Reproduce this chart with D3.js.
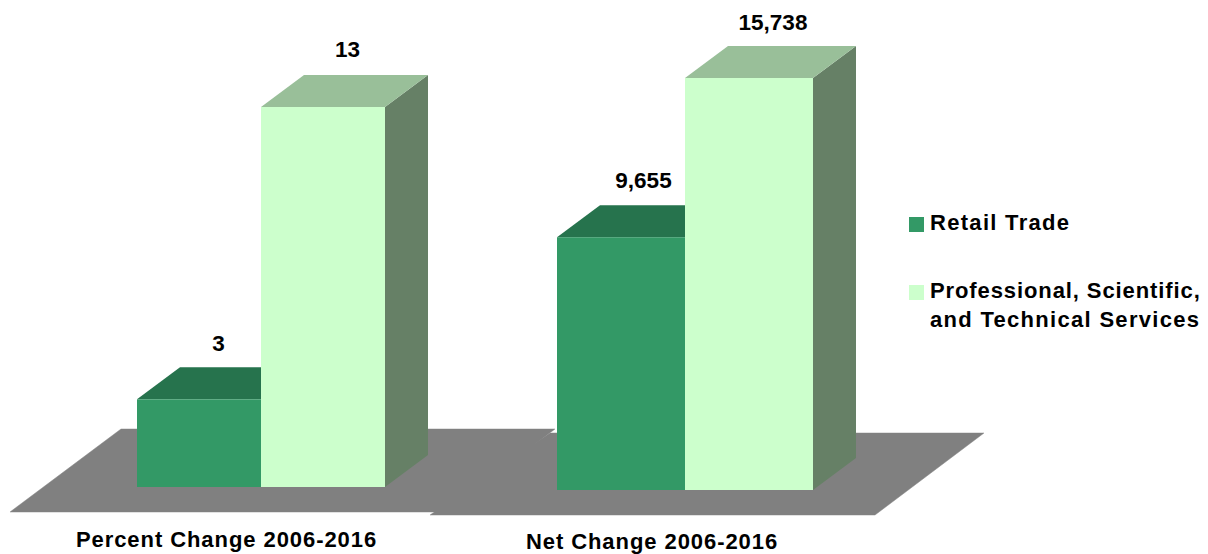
<!DOCTYPE html>
<html>
<head>
<meta charset="utf-8">
<script src="https://cdn.jsdelivr.net/npm/d3@7"></script>
<style>
  html, body { margin: 0; padding: 0; background: #fff; }
  svg { display: block; }
  text { font-family: "Liberation Sans", Arial, sans-serif; font-weight: bold; fill: #000; }
</style>
</head>
<body>
<div id="chart"></div>
<script>
const categories = ["Percent Change 2006-2016", "Net Change 2006-2016"]
const seriesNames = ["Retail Trade", "Professional, Scientific,|and Technical Services"]
const retailTrade = [3, 9655]
const professional = [13, 15738]
const colors = ["#339966", "#ccffcc"]
const topColors = ["#26734d", "#99bf99"]
const sideColors = ["#1a4d33", "#668066"]

const width = 1208
const height = 554
const depthX = 43
const depthY = -32

const svg = d3
  .select("#chart")
  .append("svg")
  .attr("width", width)
  .attr("height", height)
  .attr("viewBox", [0, 0, width, height])

// each panel has its own value axis and its own floor
const panels = [
  {
    x: d3.scaleBand().domain([0, 1]).range([137, 385]),
    y: d3.scaleLinear().domain([0, 13]).range([487, 107]),
    floor: [[10, 512], [121, 429], [555, 429], [445, 512]],
    fmt: d3.format("d"),
    nudge: [[-3, 2], [2, 0]],
    labelX: 226.5,
    labelY: 547,
    spacing: 0.93
  },
  {
    x: d3.scaleBand().domain([0, 1]).range([557, 813]),
    y: d3.scaleLinear().domain([0, 15738]).range([490, 78]),
    floor: [[430, 515], [550, 433], [984, 433], [875, 515]],
    fmt: d3.format(","),
    nudge: [[0, 1], [1.5, 2]],
    labelX: 652,
    labelY: 549,
    spacing: 0.93
  }
]

const line = d3.line()

// outlines first, then the fills, so no edge shows where the floors overlap
panels.forEach(p => {
  svg
    .append("path")
    .attr("d", line(p.floor) + "Z")
    .attr("fill", "none")
    .attr("stroke", "#c4c4c4")
    .attr("stroke-width", 1)
})
panels.forEach(p => {
  svg.append("path").attr("d", line(p.floor) + "Z").attr("fill", "#808080")
})

panels.forEach((p, i) => {
  const values = [retailTrade[i], professional[i]]
  values.forEach((v, s) => {
    const x0 = p.x(s)
    const x1 = x0 + p.x.bandwidth()
    const yTop = p.y(v)
    const yBase = p.y(0)
    const g = svg.append("g")

    // right side
    g.append("path")
      .attr("d", line([[x1, yTop], [x1 + depthX, yTop + depthY], [x1 + depthX, yBase + depthY], [x1, yBase]]) + "Z")
      .attr("fill", sideColors[s])
    // top
    g.append("path")
      .attr("d", line([[x0, yTop], [x0 + depthX, yTop + depthY], [x1 + depthX, yTop + depthY], [x1, yTop]]) + "Z")
      .attr("fill", topColors[s])
    // front
    g.append("rect")
      .attr("x", x0)
      .attr("y", yTop)
      .attr("width", x1 - x0)
      .attr("height", yBase - yTop)
      .attr("fill", colors[s])

    svg.append("text")
      .attr("x", (x0 + x1) / 2 + depthX / 2 + 1 + p.nudge[s][0])
      .attr("y", yTop + depthY - 18 + p.nudge[s][1])
      .attr("text-anchor", "middle")
      .attr("font-size", 22.5)
      .text(p.fmt(v))
  })

  svg.append("text")
    .attr("x", p.labelX)
    .attr("y", p.labelY)
    .attr("text-anchor", "middle")
    .attr("font-size", 22)
    .attr("letter-spacing", p.spacing)
    .text(categories[i])
})

// legend
const legendY = [217, 285]
const legendSpacing = [[1.3], [0.9, 1.3]]
seriesNames.forEach((name, s) => {
  svg.append("rect")
    .attr("x", 909)
    .attr("y", legendY[s])
    .attr("width", 15)
    .attr("height", 15)
    .attr("fill", colors[s])
  name.split("|").forEach((t, j) => {
    svg.append("text")
      .attr("x", 930)
      .attr("y", legendY[s] + 13 + j * 29)
      .attr("font-size", 22)
      .attr("letter-spacing", legendSpacing[s][j])
      .text(t)
  })
})
</script>
</body>
</html>
